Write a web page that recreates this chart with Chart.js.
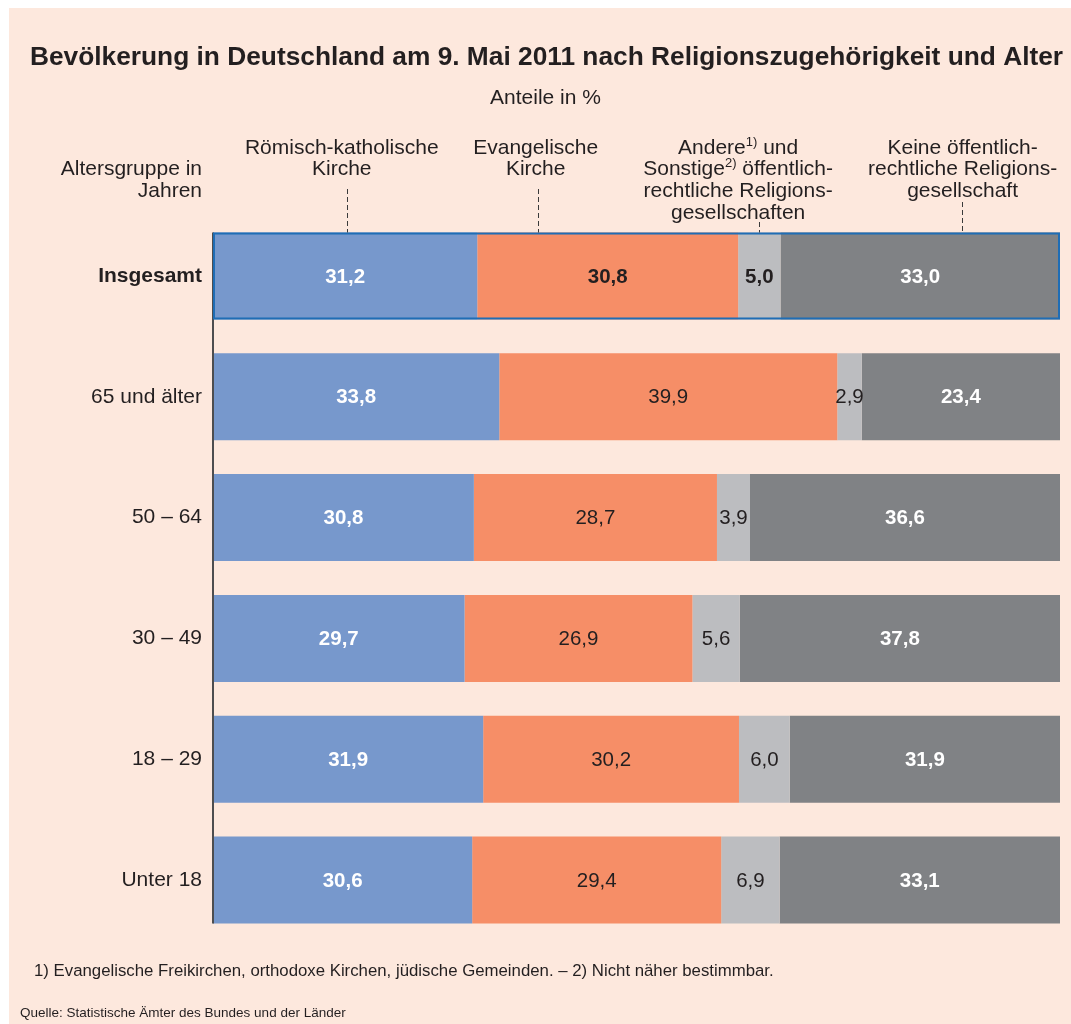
<!DOCTYPE html>
<html>
<head>
<meta charset="utf-8">
<script src="https://cdn.jsdelivr.net/npm/chart.js@4.4.1/dist/chart.umd.min.js"></script>
<style>
  html, body { margin: 0; padding: 0; background: #ffffff; }
  #wrap { position: absolute; left: 0; top: 0; width: 1071px; height: 1024px; }
</style>
</head>
<body>
<div id="wrap"><canvas id="c" width="1071" height="1024"></canvas></div>
<script>
// ---------- data ----------
const categories = ['Insgesamt', '65 und älter', '50 – 64', '30 – 49', '18 – 29', 'Unter 18'];
const seriesNames = [
  'Römisch-katholische Kirche',
  'Evangelische Kirche',
  'Andere und Sonstige öffentlich-rechtliche Religionsgesellschaften',
  'Keine öffentlich-rechtliche Religionsgesellschaft'
];
const roemischKatholisch = [31.2, 33.8, 30.8, 29.7, 31.9, 30.6];
const evangelisch        = [30.8, 39.9, 28.7, 26.9, 30.2, 29.4];
const andereSonstige     = [5.0, 2.9, 3.9, 5.6, 6.0, 6.9];
const keineReligion      = [33.0, 23.4, 36.6, 37.8, 31.9, 33.1];

const titleText = 'Bevölkerung in Deutschland am 9. Mai 2011 nach Religionszugehörigkeit und Alter';
const subtitleText = 'Anteile in %';
const axisTitleLines = ['Altersgruppe in', 'Jahren'];
// header labels: lines made of [text, superscript?] pieces
const headerLines = [
  [[['Römisch-katholische', false]], [['Kirche', false]]],
  [[['Evangelische', false]], [['Kirche', false]]],
  [[['Andere', false], ['1)', true], [' und', false]],
   [['Sonstige', false], ['2)', true], [' öffentlich-', false]],
   [['rechtliche Religions-', false]],
   [['gesellschaften', false]]],
  [[['Keine öffentlich-', false]], [['rechtliche Religions-', false]], [['gesellschaft', false]]]
];
const footnoteText = '1) Evangelische Freikirchen, orthodoxe Kirchen, jüdische Gemeinden. – 2) Nicht näher bestimmbar.';
const sourceText = 'Quelle: Statistische Ämter des Bundes und der Länder';

// ---------- style ----------
const COLORS = ['#7798cc', '#f68e67', '#bcbdc0', '#808285'];
const TEXT = '#231f20';
const BG = '#fde8dd';
const FONT = '"Liberation Sans", Arial, Helvetica, sans-serif';
// header annotation anchors in % of the value axis
const headerLabelAt = [15.2, 38.1, 62.0, 88.5];
const headerLineAt  = [15.8, 38.4, 64.5, 88.4];
const headerLineTop = [189, 189, 222, 202];

function fmt(v) { return v.toFixed(1).replace('.', ','); }

function drawRichLine(ctx, pieces, cx, y, size) {
  const fN = size + 'px ' + FONT;
  const fS = Math.round(size * 0.6) + 'px ' + FONT;
  let total = 0;
  pieces.forEach(p => { ctx.font = p[1] ? fS : fN; total += ctx.measureText(p[0]).width; });
  let x = cx - total / 2;
  ctx.textAlign = 'left';
  pieces.forEach(p => {
    ctx.font = p[1] ? fS : fN;
    ctx.fillText(p[0], x, p[1] ? y - size * 0.38 : y);
    x += ctx.measureText(p[0]).width;
  });
}

const decorPlugin = {
  id: 'decor',
  beforeDraw(chart) {
    const ctx = chart.ctx;
    ctx.save();
    ctx.fillStyle = '#ffffff';
    ctx.fillRect(0, 0, chart.width, chart.height);
    ctx.fillStyle = BG;
    ctx.fillRect(9, 8, chart.width - 9, chart.height - 8);
    ctx.restore();
  },
  afterDatasetsDraw(chart) {
    const ctx = chart.ctx;
    const xs = chart.scales.x;
    const metas = chart.data.datasets.map((d, i) => chart.getDatasetMeta(i));
    ctx.save();

    // value labels
    metas.forEach((meta, di) => {
      meta.data.forEach((bar, i) => {
        const v = chart.data.datasets[di].data[i];
        const cx = (bar.x + bar.base) / 2;
        const bold = (di === 0 || di === 3 || i === 0);
        ctx.font = (bold ? 'bold ' : '') + '20.5px ' + FONT;
        ctx.fillStyle = (di === 0 || di === 3) ? '#ffffff' : TEXT;
        ctx.textAlign = 'center';
        ctx.textBaseline = 'middle';
        ctx.fillText(fmt(v), cx, bar.y + 1);
      });
    });

    // vertical axis line
    const first = metas[0].data[0], last = metas[0].data[metas[0].data.length - 1];
    ctx.strokeStyle = '#4d4d4f';
    ctx.lineWidth = 2;
    ctx.beginPath();
    ctx.moveTo(chart.chartArea.left, first.y - first.height / 2);
    ctx.lineTo(chart.chartArea.left, last.y + last.height / 2);
    ctx.stroke();

    // frame around "Insgesamt"
    const l = metas[0].data[0], r = metas[3].data[0];
    ctx.strokeStyle = '#1f6db5';
    ctx.lineWidth = 2;
    ctx.strokeRect(l.base + 1, l.y - l.height / 2 + 1, r.x - l.base - 2, l.height - 2);

    // header labels + dashed leader lines
    ctx.fillStyle = TEXT;
    ctx.textBaseline = 'alphabetic';
    headerLines.forEach((lines, k) => {
      const cx = xs.getPixelForValue(headerLabelAt[k]);
      lines.forEach((pieces, j) => drawRichLine(ctx, pieces, cx, 153.5 + j * 21.7, 21));
      const lx = Math.round(xs.getPixelForValue(headerLineAt[k])) + 0.5;
      ctx.strokeStyle = '#3a3a3a';
      ctx.lineWidth = 1;
      ctx.setLineDash([5, 3]);
      ctx.beginPath();
      ctx.moveTo(lx, headerLineTop[k]);
      ctx.lineTo(lx, first.y - first.height / 2);
      ctx.stroke();
      ctx.setLineDash([]);
    });

    // axis title
    ctx.font = '21px ' + FONT;
    ctx.textAlign = 'right';
    axisTitleLines.forEach((t, j) => ctx.fillText(t, chart.chartArea.left - 11, 175 + j * 21.7));

    // title & subtitle
    ctx.textAlign = 'center';
    ctx.font = 'bold 26.3px ' + FONT;
    ctx.fillText(titleText, 546.5, 65);
    ctx.font = '21px ' + FONT;
    ctx.fillText(subtitleText, 545.5, 104);

    // footnotes
    ctx.textAlign = 'left';
    ctx.font = '16.8px ' + FONT;
    ctx.fillText(footnoteText, 34, 976);
    ctx.font = '13.5px ' + FONT;
    ctx.fillText(sourceText, 20, 1017);

    ctx.restore();
  }
};

const datasetsSrc = [roemischKatholisch, evangelisch, andereSonstige, keineReligion];

new Chart(document.getElementById('c'), {
  type: 'bar',
  data: {
    labels: categories,
    datasets: datasetsSrc.map((arr, i) => ({
      label: seriesNames[i],
      data: arr,
      backgroundColor: COLORS[i],
      borderWidth: 0,
      categoryPercentage: 1.0,
      barPercentage: 0.72
    }))
  },
  options: {
    indexAxis: 'y',
    responsive: false,
    animation: false,
    devicePixelRatio: 1,
    layout: { padding: { top: 215.6, bottom: 83.6, left: 0, right: 11 } },
    plugins: { legend: { display: false }, tooltip: { enabled: false }, title: { display: false } },
    scales: {
      x: { stacked: true, min: 0, max: 100, display: false },
      y: {
        stacked: true,
        grid: { display: false, drawTicks: false },
        border: { display: false },
        afterFit(scale) { scale.width = 213; },
        ticks: {
          padding: 11,
          color: TEXT,
          font: (c) => ({ family: FONT, size: 21, weight: c.index === 0 ? 'bold' : 'normal' })
        }
      }
    }
  },
  plugins: [decorPlugin]
});
</script>
</body>
</html>
